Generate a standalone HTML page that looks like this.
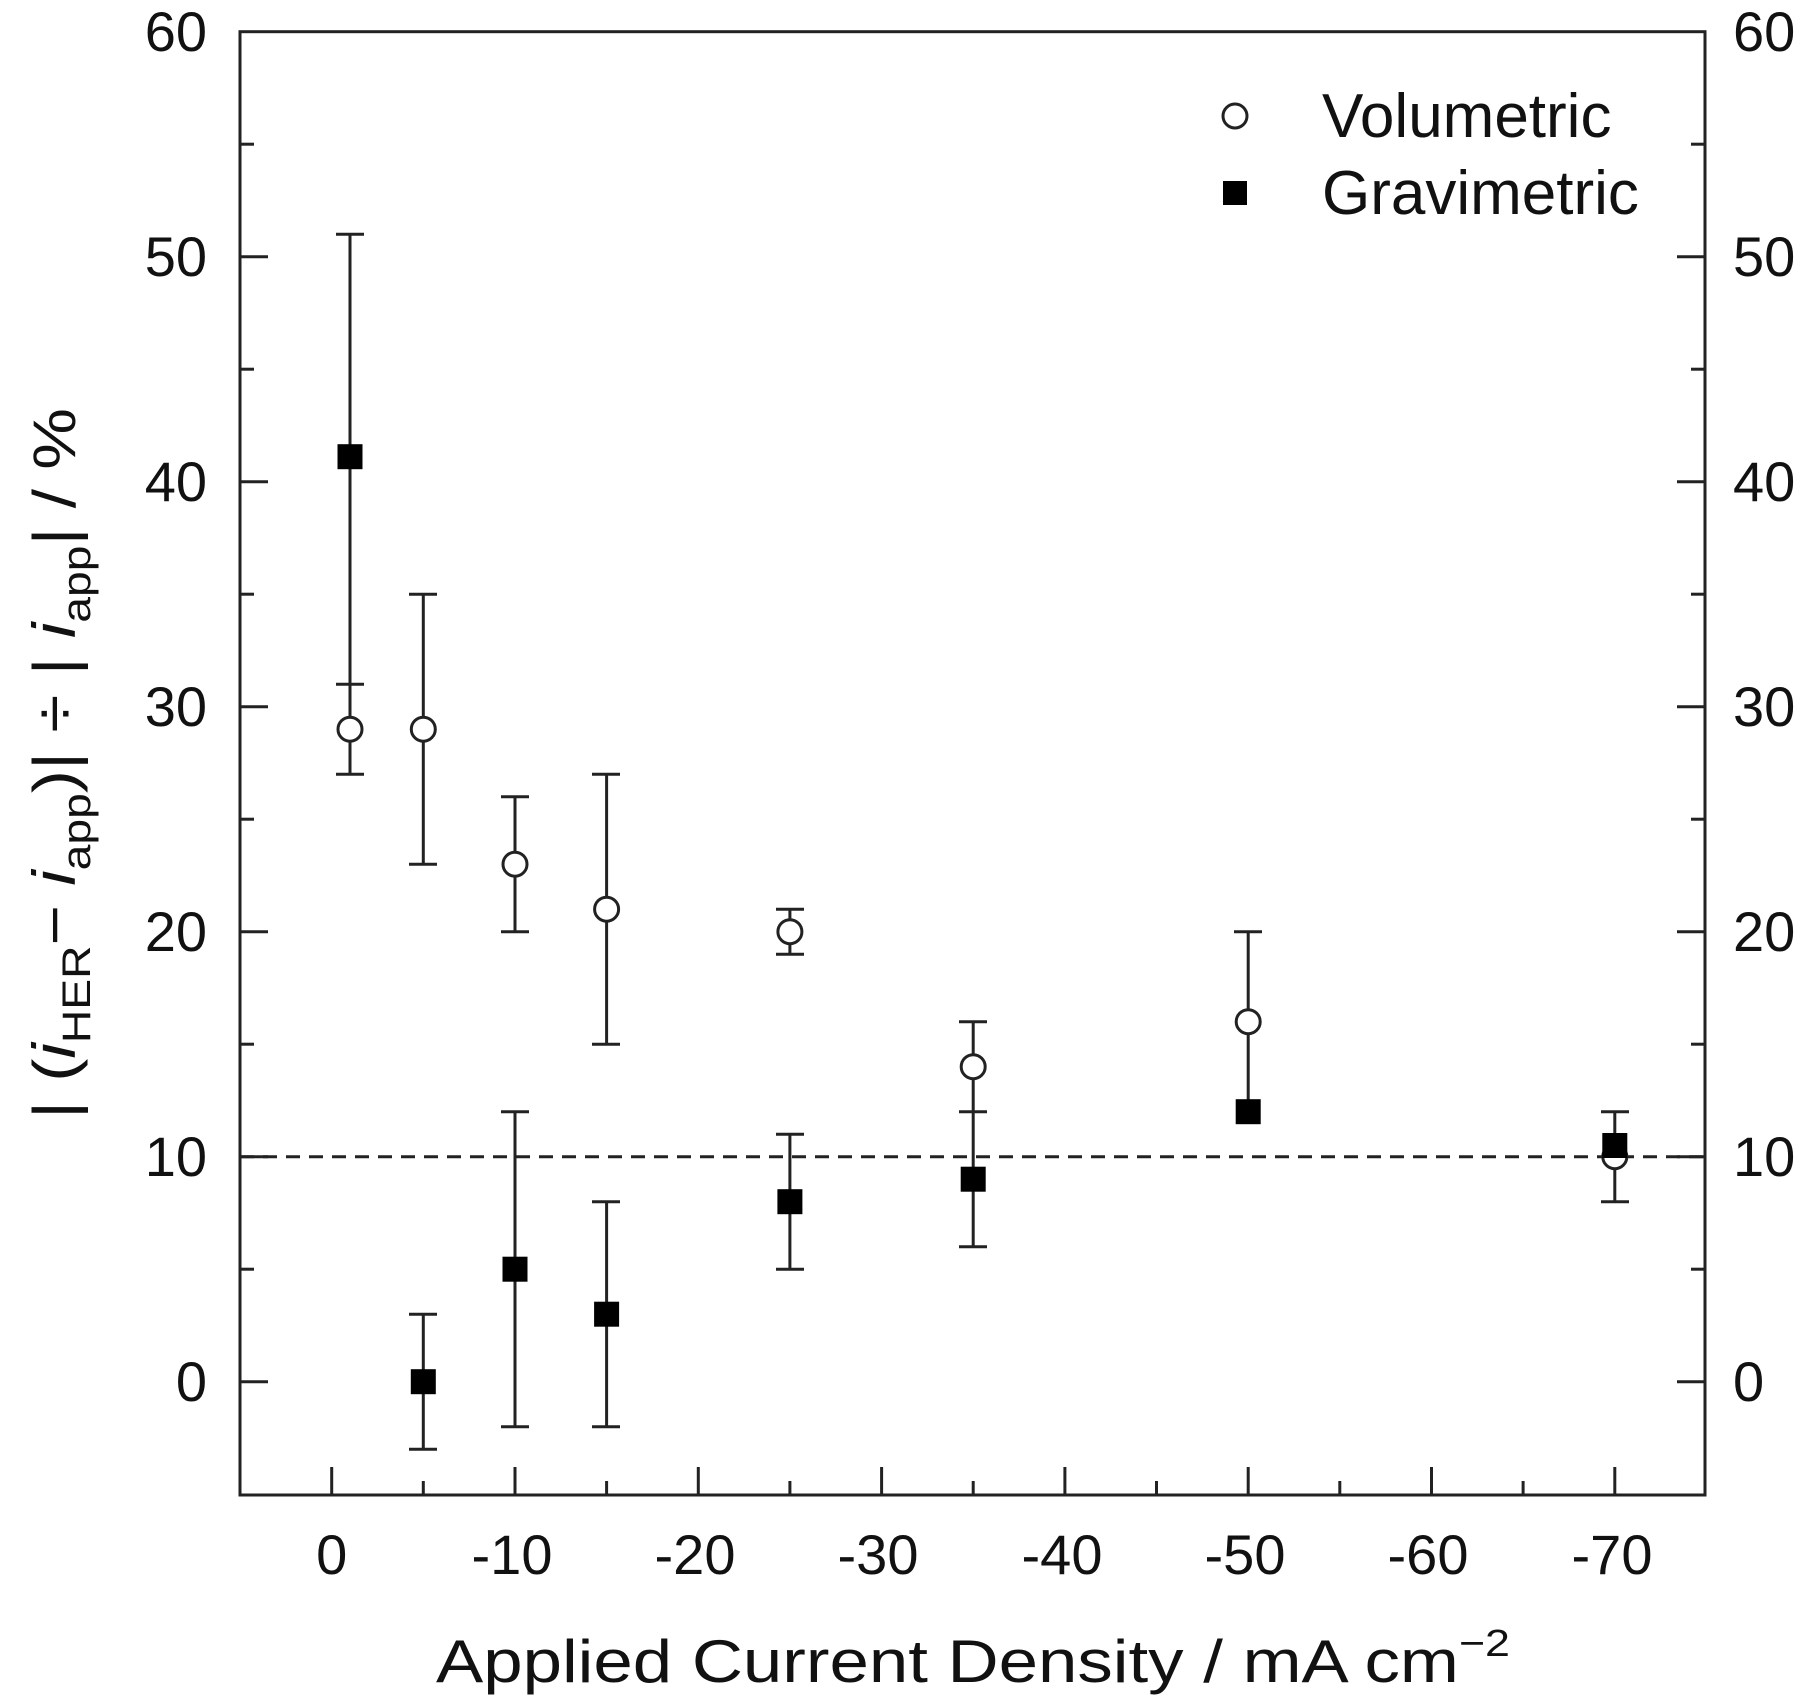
<!DOCTYPE html>
<html><head><meta charset="utf-8"><style>
html,body{margin:0;padding:0;background:#fff;}
svg{display:block;}
text{font-family:"Liberation Sans",sans-serif;fill:#111;}
</style></head><body>
<svg width="1800" height="1702" viewBox="0 0 1800 1702" xmlns="http://www.w3.org/2000/svg">
<g stroke="#222" stroke-width="3" fill="none">
<rect x="240" y="31.7" width="1465" height="1463.3"/>
</g>
<g stroke="#222" stroke-width="3">
<line x1="331.7" y1="1495" x2="331.7" y2="1467"/>
<line x1="515" y1="1495" x2="515" y2="1467"/>
<line x1="698.3" y1="1495" x2="698.3" y2="1467"/>
<line x1="881.6" y1="1495" x2="881.6" y2="1467"/>
<line x1="1064.9" y1="1495" x2="1064.9" y2="1467"/>
<line x1="1248.2" y1="1495" x2="1248.2" y2="1467"/>
<line x1="1431.5" y1="1495" x2="1431.5" y2="1467"/>
<line x1="1614.8" y1="1495" x2="1614.8" y2="1467"/>
<line x1="423.3" y1="1495" x2="423.3" y2="1481"/>
<line x1="606.6" y1="1495" x2="606.6" y2="1481"/>
<line x1="789.9" y1="1495" x2="789.9" y2="1481"/>
<line x1="973.2" y1="1495" x2="973.2" y2="1481"/>
<line x1="1156.5" y1="1495" x2="1156.5" y2="1481"/>
<line x1="1339.8" y1="1495" x2="1339.8" y2="1481"/>
<line x1="1523.1" y1="1495" x2="1523.1" y2="1481"/>
<g id="yt">
<line x1="240" y1="1381.7" x2="268" y2="1381.7"/>
<line x1="240" y1="1156.7" x2="268" y2="1156.7"/>
<line x1="240" y1="931.7" x2="268" y2="931.7"/>
<line x1="240" y1="706.7" x2="268" y2="706.7"/>
<line x1="240" y1="481.7" x2="268" y2="481.7"/>
<line x1="240" y1="256.7" x2="268" y2="256.7"/>
<line x1="240" y1="1269.2" x2="254" y2="1269.2"/>
<line x1="240" y1="1044.2" x2="254" y2="1044.2"/>
<line x1="240" y1="819.2" x2="254" y2="819.2"/>
<line x1="240" y1="594.2" x2="254" y2="594.2"/>
<line x1="240" y1="369.2" x2="254" y2="369.2"/>
<line x1="240" y1="144.2" x2="254" y2="144.2"/>
</g>
<use href="#yt" transform="translate(1945,0) scale(-1,1)"/>
</g>
<line x1="240" y1="1156.7" x2="1705" y2="1156.7" stroke="#222" stroke-width="3" stroke-dasharray="14,9"/>
<g font-size="56" text-anchor="end">
<text x="207" y="1401">0</text><text x="207" y="1176">10</text><text x="207" y="951">20</text>
<text x="207" y="726">30</text><text x="207" y="501">40</text><text x="207" y="276">50</text><text x="207" y="51">60</text>
</g>
<g font-size="56" text-anchor="start">
<text x="1733" y="1401">0</text><text x="1733" y="1176">10</text><text x="1733" y="951">20</text>
<text x="1733" y="726">30</text><text x="1733" y="501">40</text><text x="1733" y="276">50</text><text x="1733" y="51">60</text>
</g>
<g font-size="56" text-anchor="middle">
<text x="331.7" y="1574">0</text><text x="512" y="1574">-10</text><text x="695" y="1574">-20</text>
<text x="878" y="1574">-30</text><text x="1062" y="1574">-40</text><text x="1245" y="1574">-50</text>
<text x="1428" y="1574">-60</text><text x="1612" y="1574">-70</text>
</g>
<text x="436" y="1682" font-size="60" textLength="1074" lengthAdjust="spacingAndGlyphs">Applied Current Density / mA cm<tspan font-size="38" dy="-26">−2</tspan></text>
<text transform="translate(75,1119) rotate(-90)" font-size="60" textLength="711" lengthAdjust="spacingAndGlyphs">| (<tspan font-style="italic">i</tspan><tspan font-size="40" dy="15">HER</tspan><tspan dy="-15">− </tspan><tspan font-style="italic">i</tspan><tspan font-size="40" dy="15">app</tspan><tspan dy="-15">)| ÷ | </tspan><tspan font-style="italic">i</tspan><tspan font-size="40" dy="15">app</tspan><tspan dy="-15">| / %</tspan></text>
<g stroke="#222" stroke-width="3">
<path d="M350,774.2V684.2M336,774.2h28"/>
<path d="M423.3,864.2V594.2M409,864.2h28M409,594.2h28"/>
<path d="M515,931.7V796.7M501,931.7h28M501,796.7h28"/>
<path d="M606.6,1044.2V774.2M592,1044.2h28M592,774.2h28"/>
<path d="M789.9,954.2V909.2M776,954.2h28M776,909.2h28"/>
<path d="M973.2,1111.7V1021.7M959,1021.7h28"/>
<path d="M1248.2,1111.7V931.7M1234,931.7h28"/>
<path d="M1614.8,1201.7V1111.7M1601,1201.7h28M1601,1111.7h28"/>
<path d="M350,684.2V234.2M336,234.2h28M336,684.2h28"/>
<path d="M423.3,1449.2V1314.2M409,1449.2h28M409,1314.2h28"/>
<path d="M515,1426.7V1111.7M501,1426.7h28M501,1111.7h28"/>
<path d="M606.6,1426.7V1201.7M592,1426.7h28M592,1201.7h28"/>
<path d="M789.9,1269.2V1134.2M776,1269.2h28M776,1134.2h28"/>
<path d="M973.2,1246.7V1111.7M959,1246.7h28M959,1111.7h28"/>
<path d="M1236,1118h24M1236,1107h24"/>
</g>
<g fill="#fff" stroke="#222" stroke-width="3">
<circle cx="350" cy="729.2" r="12"/>
<circle cx="423.3" cy="729.2" r="12"/>
<circle cx="515" cy="864.2" r="12"/>
<circle cx="606.6" cy="909.2" r="12"/>
<circle cx="789.9" cy="931.7" r="12"/>
<circle cx="973.2" cy="1066.7" r="12"/>
<circle cx="1248.2" cy="1021.7" r="12"/>
<circle cx="1614.8" cy="1156.7" r="12"/>
<circle cx="1235" cy="116" r="12"/>
</g>
<g fill="#000">
<rect x="337.5" y="444.2" width="25" height="25"/>
<rect x="410.8" y="1369.2" width="25" height="25"/>
<rect x="502.5" y="1256.7" width="25" height="25"/>
<rect x="594.1" y="1301.7" width="25" height="25"/>
<rect x="777.4" y="1189.2" width="25" height="25"/>
<rect x="960.7" y="1166.7" width="25" height="25"/>
<rect x="1235.7" y="1099.2" width="25" height="25"/>
<rect x="1602.3" y="1133" width="25" height="25"/>
<rect x="1223" y="181" width="24" height="24"/>
</g>
<text x="1322" y="137" font-size="62">Volumetric</text>
<text x="1322" y="214" font-size="62">Gravimetric</text>
</svg>
</body></html>
